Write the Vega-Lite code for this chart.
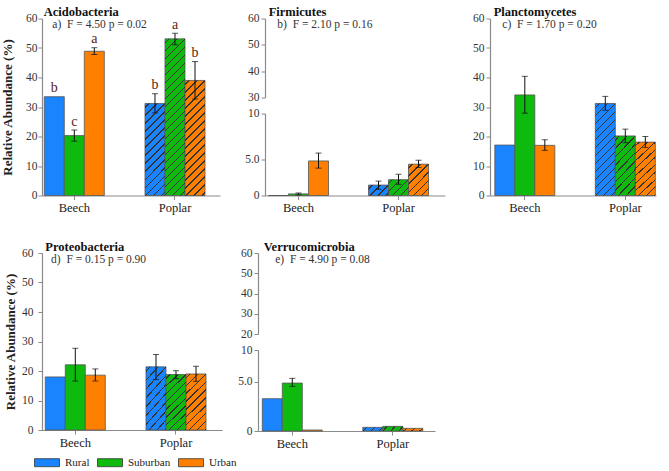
{
"$schema":"https://vega.github.io/schema/vega-lite/v6.json",
"padding":{"left":1,"top":5.5,"right":5,"bottom":2},
"data":{"values":[
{"phylum":"Acidobacteria","group":"Beech","site":"Rural","value":33.5,"lo":33.5,"hi":33.5,"letter":"b"},
{"phylum":"Acidobacteria","group":"Beech","site":"Suburban","value":20.3,"lo":18.4,"hi":22.2,"letter":"c"},
{"phylum":"Acidobacteria","group":"Beech","site":"Urban","value":48.9,"lo":47.8,"hi":50.1,"letter":"a"},
{"phylum":"Acidobacteria","group":"Poplar","site":"Rural","value":31.2,"lo":28.0,"hi":34.5,"letter":"b"},
{"phylum":"Acidobacteria","group":"Poplar","site":"Suburban","value":53.1,"lo":51.1,"hi":55.0,"letter":"a"},
{"phylum":"Acidobacteria","group":"Poplar","site":"Urban","value":39.0,"lo":32.7,"hi":45.4,"letter":"b"},
{"phylum":"Firmicutes","group":"Beech","site":"Rural","value":0,"lo":0,"hi":0},
{"phylum":"Firmicutes","group":"Beech","site":"Suburban","value":0.22,"lo":0.1,"hi":0.35},
{"phylum":"Firmicutes","group":"Beech","site":"Urban","value":4.8,"lo":3.8,"hi":5.7},
{"phylum":"Firmicutes","group":"Poplar","site":"Rural","value":1.45,"lo":0.85,"hi":2.0},
{"phylum":"Firmicutes","group":"Poplar","site":"Suburban","value":2.2,"lo":1.55,"hi":2.95},
{"phylum":"Firmicutes","group":"Poplar","site":"Urban","value":4.35,"lo":3.9,"hi":4.9},
{"phylum":"Planctomycetes","group":"Beech","site":"Rural","value":17.1,"lo":17.1,"hi":17.1},
{"phylum":"Planctomycetes","group":"Beech","site":"Suburban","value":34.1,"lo":27.9,"hi":40.4},
{"phylum":"Planctomycetes","group":"Beech","site":"Urban","value":17.0,"lo":15.3,"hi":18.9},
{"phylum":"Planctomycetes","group":"Poplar","site":"Rural","value":31.2,"lo":28.9,"hi":33.6},
{"phylum":"Planctomycetes","group":"Poplar","site":"Suburban","value":20.2,"lo":17.9,"hi":22.5},
{"phylum":"Planctomycetes","group":"Poplar","site":"Urban","value":18.1,"lo":16.3,"hi":20.0},
{"phylum":"Proteobacteria","group":"Beech","site":"Rural","value":18.0,"lo":18.0,"hi":18.0},
{"phylum":"Proteobacteria","group":"Beech","site":"Suburban","value":22.1,"lo":16.6,"hi":27.7},
{"phylum":"Proteobacteria","group":"Beech","site":"Urban","value":18.6,"lo":16.6,"hi":20.7},
{"phylum":"Proteobacteria","group":"Poplar","site":"Rural","value":21.4,"lo":17.1,"hi":25.6},
{"phylum":"Proteobacteria","group":"Poplar","site":"Suburban","value":18.8,"lo":17.4,"hi":20.1},
{"phylum":"Proteobacteria","group":"Poplar","site":"Urban","value":19.0,"lo":16.5,"hi":21.6},
{"phylum":"Verrucomicrobia","group":"Beech","site":"Rural","value":3.28,"lo":3.28,"hi":3.28},
{"phylum":"Verrucomicrobia","group":"Beech","site":"Suburban","value":4.86,"lo":4.53,"hi":5.53},
{"phylum":"Verrucomicrobia","group":"Beech","site":"Urban","value":0.1,"lo":0.1,"hi":0.1},
{"phylum":"Verrucomicrobia","group":"Poplar","site":"Rural","value":0.37,"lo":0.37,"hi":0.37},
{"phylum":"Verrucomicrobia","group":"Poplar","site":"Suburban","value":0.47,"lo":0.47,"hi":0.47},
{"phylum":"Verrucomicrobia","group":"Poplar","site":"Urban","value":0.27,"lo":0.27,"hi":0.27}
]},
"spacing":25.5,
"resolve":{"scale":{"x":"independent","y":"independent"}},
"vconcat":[
{"hconcat":[
{
"width":178,"height":177,
"title":{"text":"Acidobacteria","subtitle":"\u200b\u00a0\u00a0\u00a0a)\u00a0 F = 4.50 p = 0.02","dx":1.7},
"transform":[{"filter":"datum.phylum === 'Acidobacteria'"}],
"encoding":{
"x":{"field":"group","type":"nominal","sort":["Beech","Poplar"],"title":null,"scale":{"paddingInner":0.404,"paddingOuter":0.0859,"align":0.133}},
"xOffset":{"field":"site","type":"nominal","sort":["Rural","Suburban","Urban"],"scale":{"paddingInner":0,"paddingOuter":0}}
},
"layer":[
{"mark":{"type":"bar","stroke":"#555","strokeWidth":0.8},
"encoding":{"y":{"field":"value","type":"quantitative","title":"Relative Abundance (%)","scale":{"domain":[0,60],"nice":false,"zero":false},"axis":{"values":[0,10,20,30,40,50,60],"labelPadding":1,"titlePadding":11}},
"color":{"field":"site","type":"nominal","title":null,"scale":{"domain":["Rural","Suburban","Urban"],"range":["#1a84ff","#0dba0d","#ff8000"]}}}},
{"transform":[{"filter":"datum.group === 'Poplar'"}],"mark":{"type":"bar"},
"encoding":{"y":{"field":"value","type":"quantitative","title":"Relative Abundance (%)","axis":{"values":[0,10,20,30,40,50,60],"labelPadding":1,"titlePadding":11}},
"fill":{"condition":[
{"test":"datum.site === 'Rural'","value":{"gradient":"linear","x1":0,"y1":0,"x2":0.2536,"y2":1.1628,"stops":[
{"offset":0.0295,"color":"transparent"},{"offset":0.0295,"color":"#333"},{"offset":0.0421,"color":"#333"},{"offset":0.0421,"color":"transparent"},
{"offset":0.1012,"color":"transparent"},{"offset":0.1012,"color":"#333"},{"offset":0.1137,"color":"#333"},{"offset":0.1137,"color":"transparent"},
{"offset":0.1728,"color":"transparent"},{"offset":0.1728,"color":"#333"},{"offset":0.1853,"color":"#333"},{"offset":0.1853,"color":"transparent"},
{"offset":0.2444,"color":"transparent"},{"offset":0.2444,"color":"#333"},{"offset":0.2569,"color":"#333"},{"offset":0.2569,"color":"transparent"},
{"offset":0.3160,"color":"transparent"},{"offset":0.3160,"color":"#333"},{"offset":0.3286,"color":"#333"},{"offset":0.3286,"color":"transparent"},
{"offset":0.3876,"color":"transparent"},{"offset":0.3876,"color":"#333"},{"offset":0.4002,"color":"#333"},{"offset":0.4002,"color":"transparent"},
{"offset":0.4593,"color":"transparent"},{"offset":0.4593,"color":"#333"},{"offset":0.4718,"color":"#333"},{"offset":0.4718,"color":"transparent"},
{"offset":0.5309,"color":"transparent"},{"offset":0.5309,"color":"#333"},{"offset":0.5434,"color":"#333"},{"offset":0.5434,"color":"transparent"},
{"offset":0.6025,"color":"transparent"},{"offset":0.6025,"color":"#333"},{"offset":0.6150,"color":"#333"},{"offset":0.6150,"color":"transparent"},
{"offset":0.6741,"color":"transparent"},{"offset":0.6741,"color":"#333"},{"offset":0.6867,"color":"#333"},{"offset":0.6867,"color":"transparent"},
{"offset":0.7457,"color":"transparent"},{"offset":0.7457,"color":"#333"},{"offset":0.7583,"color":"#333"},{"offset":0.7583,"color":"transparent"},
{"offset":0.8174,"color":"transparent"},{"offset":0.8174,"color":"#333"},{"offset":0.8299,"color":"#333"},{"offset":0.8299,"color":"transparent"},
{"offset":0.8890,"color":"transparent"},{"offset":0.8890,"color":"#333"},{"offset":0.9015,"color":"#333"},{"offset":0.9015,"color":"transparent"},
{"offset":0.9606,"color":"transparent"},{"offset":0.9606,"color":"#333"},{"offset":0.9731,"color":"#333"},{"offset":0.9731,"color":"transparent"}]}},
{"test":"datum.site === 'Suburban'","value":{"gradient":"linear","x1":0,"y1":0,"x2":0.1417,"y2":1.1096,"stops":[
{"offset":0.0187,"color":"transparent"},{"offset":0.0187,"color":"#333"},{"offset":0.0266,"color":"#333"},{"offset":0.0266,"color":"transparent"},
{"offset":0.0640,"color":"transparent"},{"offset":0.0640,"color":"#333"},{"offset":0.0719,"color":"#333"},{"offset":0.0719,"color":"transparent"},
{"offset":0.1093,"color":"transparent"},{"offset":0.1093,"color":"#333"},{"offset":0.1172,"color":"#333"},{"offset":0.1172,"color":"transparent"},
{"offset":0.1546,"color":"transparent"},{"offset":0.1546,"color":"#333"},{"offset":0.1625,"color":"#333"},{"offset":0.1625,"color":"transparent"},
{"offset":0.1999,"color":"transparent"},{"offset":0.1999,"color":"#333"},{"offset":0.2078,"color":"#333"},{"offset":0.2078,"color":"transparent"},
{"offset":0.2452,"color":"transparent"},{"offset":0.2452,"color":"#333"},{"offset":0.2531,"color":"#333"},{"offset":0.2531,"color":"transparent"},
{"offset":0.2905,"color":"transparent"},{"offset":0.2905,"color":"#333"},{"offset":0.2984,"color":"#333"},{"offset":0.2984,"color":"transparent"},
{"offset":0.3358,"color":"transparent"},{"offset":0.3358,"color":"#333"},{"offset":0.3437,"color":"#333"},{"offset":0.3437,"color":"transparent"},
{"offset":0.3811,"color":"transparent"},{"offset":0.3811,"color":"#333"},{"offset":0.3890,"color":"#333"},{"offset":0.3890,"color":"transparent"},
{"offset":0.4264,"color":"transparent"},{"offset":0.4264,"color":"#333"},{"offset":0.4343,"color":"#333"},{"offset":0.4343,"color":"transparent"},
{"offset":0.4717,"color":"transparent"},{"offset":0.4717,"color":"#333"},{"offset":0.4796,"color":"#333"},{"offset":0.4796,"color":"transparent"},
{"offset":0.5170,"color":"transparent"},{"offset":0.5170,"color":"#333"},{"offset":0.5249,"color":"#333"},{"offset":0.5249,"color":"transparent"},
{"offset":0.5623,"color":"transparent"},{"offset":0.5623,"color":"#333"},{"offset":0.5702,"color":"#333"},{"offset":0.5702,"color":"transparent"},
{"offset":0.6076,"color":"transparent"},{"offset":0.6076,"color":"#333"},{"offset":0.6155,"color":"#333"},{"offset":0.6155,"color":"transparent"},
{"offset":0.6529,"color":"transparent"},{"offset":0.6529,"color":"#333"},{"offset":0.6608,"color":"#333"},{"offset":0.6608,"color":"transparent"},
{"offset":0.6982,"color":"transparent"},{"offset":0.6982,"color":"#333"},{"offset":0.7061,"color":"#333"},{"offset":0.7061,"color":"transparent"},
{"offset":0.7435,"color":"transparent"},{"offset":0.7435,"color":"#333"},{"offset":0.7514,"color":"#333"},{"offset":0.7514,"color":"transparent"},
{"offset":0.7888,"color":"transparent"},{"offset":0.7888,"color":"#333"},{"offset":0.7967,"color":"#333"},{"offset":0.7967,"color":"transparent"},
{"offset":0.8341,"color":"transparent"},{"offset":0.8341,"color":"#333"},{"offset":0.8420,"color":"#333"},{"offset":0.8420,"color":"transparent"},
{"offset":0.8794,"color":"transparent"},{"offset":0.8794,"color":"#333"},{"offset":0.8873,"color":"#333"},{"offset":0.8873,"color":"transparent"},
{"offset":0.9247,"color":"transparent"},{"offset":0.9247,"color":"#333"},{"offset":0.9326,"color":"#333"},{"offset":0.9326,"color":"transparent"},
{"offset":0.9700,"color":"transparent"},{"offset":0.9700,"color":"#333"},{"offset":0.9779,"color":"#333"},{"offset":0.9779,"color":"transparent"}]}}],
"value":{"gradient":"linear","x1":0,"y1":0,"x2":0.1982,"y2":1.1394,"stops":[
{"offset":0.0244,"color":"transparent"},{"offset":0.0244,"color":"#333"},{"offset":0.0348,"color":"#333"},{"offset":0.0348,"color":"transparent"},
{"offset":0.0837,"color":"transparent"},{"offset":0.0837,"color":"#333"},{"offset":0.0941,"color":"#333"},{"offset":0.0941,"color":"transparent"},
{"offset":0.1430,"color":"transparent"},{"offset":0.1430,"color":"#333"},{"offset":0.1533,"color":"#333"},{"offset":0.1533,"color":"transparent"},
{"offset":0.2022,"color":"transparent"},{"offset":0.2022,"color":"#333"},{"offset":0.2126,"color":"#333"},{"offset":0.2126,"color":"transparent"},
{"offset":0.2615,"color":"transparent"},{"offset":0.2615,"color":"#333"},{"offset":0.2719,"color":"#333"},{"offset":0.2719,"color":"transparent"},
{"offset":0.3207,"color":"transparent"},{"offset":0.3207,"color":"#333"},{"offset":0.3311,"color":"#333"},{"offset":0.3311,"color":"transparent"},
{"offset":0.3800,"color":"transparent"},{"offset":0.3800,"color":"#333"},{"offset":0.3904,"color":"#333"},{"offset":0.3904,"color":"transparent"},
{"offset":0.4393,"color":"transparent"},{"offset":0.4393,"color":"#333"},{"offset":0.4496,"color":"#333"},{"offset":0.4496,"color":"transparent"},
{"offset":0.4985,"color":"transparent"},{"offset":0.4985,"color":"#333"},{"offset":0.5089,"color":"#333"},{"offset":0.5089,"color":"transparent"},
{"offset":0.5578,"color":"transparent"},{"offset":0.5578,"color":"#333"},{"offset":0.5681,"color":"#333"},{"offset":0.5681,"color":"transparent"},
{"offset":0.6170,"color":"transparent"},{"offset":0.6170,"color":"#333"},{"offset":0.6274,"color":"#333"},{"offset":0.6274,"color":"transparent"},
{"offset":0.6763,"color":"transparent"},{"offset":0.6763,"color":"#333"},{"offset":0.6867,"color":"#333"},{"offset":0.6867,"color":"transparent"},
{"offset":0.7356,"color":"transparent"},{"offset":0.7356,"color":"#333"},{"offset":0.7459,"color":"#333"},{"offset":0.7459,"color":"transparent"},
{"offset":0.7948,"color":"transparent"},{"offset":0.7948,"color":"#333"},{"offset":0.8052,"color":"#333"},{"offset":0.8052,"color":"transparent"},
{"offset":0.8541,"color":"transparent"},{"offset":0.8541,"color":"#333"},{"offset":0.8644,"color":"#333"},{"offset":0.8644,"color":"transparent"},
{"offset":0.9133,"color":"transparent"},{"offset":0.9133,"color":"#333"},{"offset":0.9237,"color":"#333"},{"offset":0.9237,"color":"transparent"},
{"offset":0.9726,"color":"transparent"},{"offset":0.9726,"color":"#333"},{"offset":0.9830,"color":"#333"},{"offset":0.9830,"color":"transparent"}]}}}},
{"transform":[{"filter":"datum.hi > datum.lo"}],"mark":{"type":"rule","color":"#111","strokeWidth":1},"encoding":{"y":{"field":"lo","type":"quantitative","title":"Relative Abundance (%)","axis":{"values":[0,10,20,30,40,50,60],"labelPadding":1,"titlePadding":11}},"y2":{"field":"hi"}}},
{"transform":[{"filter":"datum.hi > datum.lo"}],"mark":{"type":"tick","color":"#111","thickness":1,"size":6},"encoding":{"y":{"field":"lo","type":"quantitative","title":"Relative Abundance (%)","axis":{"values":[0,10,20,30,40,50,60],"labelPadding":1,"titlePadding":11}}}},
{"transform":[{"filter":"datum.hi > datum.lo"}],"mark":{"type":"tick","color":"#111","thickness":1,"size":6},"encoding":{"y":{"field":"hi","type":"quantitative","title":"Relative Abundance (%)","axis":{"values":[0,10,20,30,40,50,60],"labelPadding":1,"titlePadding":11}}}},
{"transform":[{"filter":"datum.letter != null"}],"mark":{"type":"text","dy":-4.5,"baseline":"alphabetic","fontSize":14,"color":"#5a2414"},"encoding":{"y":{"field":"hi","type":"quantitative","title":"Relative Abundance (%)","axis":{"values":[0,10,20,30,40,50,60],"labelPadding":1,"titlePadding":11}},"text":{"field":"letter"}}}
]
},
{
"width":180,"height":177,
"title":{"text":"Firmicutes","subtitle":"\u200b\u00a0\u00a0\u00a0b)\u00a0 F = 2.10 p = 0.16","dx":3.7},
"transform":[{"filter":"datum.phylum === 'Firmicutes'"}],
"encoding":{
"x":{"field":"group","type":"nominal","sort":["Beech","Poplar"],"title":null,"scale":{"paddingInner":0.4,"paddingOuter":0.1,"align":0.175}},
"xOffset":{"field":"site","type":"nominal","sort":["Rural","Suburban","Urban"],"scale":{"paddingInner":0,"paddingOuter":0}}
},
"resolve":{"scale":{"y":"independent"},"axis":{"y":"independent"}},
"layer":[
{"mark":{"type":"point","opacity":0},"encoding":{"y":{"field":"value","type":"quantitative","title":null,"scale":{"domain":[30,60],"range":[79,0],"nice":false,"zero":false},"axis":{"values":[30,40,50,60],"orient":"left"}}}},
{"layer":[
{"mark":{"type":"bar","stroke":"#555","strokeWidth":0.8},
"encoding":{"y":{"field":"value","type":"quantitative","title":null,"scale":{"domain":[0,5,10],"range":[177,141,95],"nice":false,"zero":false},"axis":{"values":[0,5,10],"orient":"left","labelExpr":"datum.value === 5 ? '5.0' : datum.label"}},
"color":{"field":"site","type":"nominal","title":null}}},
{"transform":[{"filter":"datum.group === 'Poplar'"}],"mark":{"type":"bar"},
"encoding":{"y":{"field":"value","type":"quantitative","title":null,"axis":{"values":[0,5,10],"orient":"left","labelExpr":"datum.value === 5 ? '5.0' : datum.label"}},
"fill":{"condition":[
{"test":"datum.site === 'Rural'","value":{"gradient":"linear","x1":0,"y1":0,"x2":1.1964,"y2":0.6221,"stops":[
{"offset":0.1086,"color":"transparent"},{"offset":0.1086,"color":"#333"},{"offset":0.1546,"color":"#333"},{"offset":0.1546,"color":"transparent"},
{"offset":0.3717,"color":"transparent"},{"offset":0.3717,"color":"#333"},{"offset":0.4178,"color":"#333"},{"offset":0.4178,"color":"transparent"},
{"offset":0.6349,"color":"transparent"},{"offset":0.6349,"color":"#333"},{"offset":0.6809,"color":"#333"},{"offset":0.6809,"color":"transparent"},
{"offset":0.8980,"color":"transparent"},{"offset":0.8980,"color":"#333"},{"offset":0.9441,"color":"#333"},{"offset":0.9441,"color":"transparent"}]}},
{"test":"datum.site === 'Suburban'","value":{"gradient":"linear","x1":0,"y1":0,"x2":1.1022,"y2":0.8707,"stops":[
{"offset":0.0922,"color":"transparent"},{"offset":0.0922,"color":"#333"},{"offset":0.1313,"color":"#333"},{"offset":0.1313,"color":"transparent"},
{"offset":0.3156,"color":"transparent"},{"offset":0.3156,"color":"#333"},{"offset":0.3547,"color":"#333"},{"offset":0.3547,"color":"transparent"},
{"offset":0.5391,"color":"transparent"},{"offset":0.5391,"color":"#333"},{"offset":0.5782,"color":"#333"},{"offset":0.5782,"color":"transparent"},
{"offset":0.7626,"color":"transparent"},{"offset":0.7626,"color":"#333"},{"offset":0.8017,"color":"#333"},{"offset":0.8017,"color":"transparent"}]}}],
"value":{"gradient":"linear","x1":0,"y1":0,"x2":0.7436,"y2":1.1638,"stops":[
{"offset":0.0643,"color":"transparent"},{"offset":0.0643,"color":"#333"},{"offset":0.0916,"color":"#333"},{"offset":0.0916,"color":"transparent"},
{"offset":0.2203,"color":"transparent"},{"offset":0.2203,"color":"#333"},{"offset":0.2476,"color":"#333"},{"offset":0.2476,"color":"transparent"},
{"offset":0.3762,"color":"transparent"},{"offset":0.3762,"color":"#333"},{"offset":0.4035,"color":"#333"},{"offset":0.4035,"color":"transparent"},
{"offset":0.5322,"color":"transparent"},{"offset":0.5322,"color":"#333"},{"offset":0.5595,"color":"#333"},{"offset":0.5595,"color":"transparent"},
{"offset":0.6881,"color":"transparent"},{"offset":0.6881,"color":"#333"},{"offset":0.7154,"color":"#333"},{"offset":0.7154,"color":"transparent"},
{"offset":0.8441,"color":"transparent"},{"offset":0.8441,"color":"#333"},{"offset":0.8713,"color":"#333"},{"offset":0.8713,"color":"transparent"}]}}}},
{"transform":[{"filter":"datum.hi > datum.lo"}],"mark":{"type":"rule","color":"#111","strokeWidth":1},"encoding":{"y":{"field":"lo","type":"quantitative","title":null,"axis":{"values":[0,5,10],"orient":"left","labelExpr":"datum.value === 5 ? '5.0' : datum.label"}},"y2":{"field":"hi"}}},
{"transform":[{"filter":"datum.hi > datum.lo"}],"mark":{"type":"tick","color":"#111","thickness":1,"size":6},"encoding":{"y":{"field":"lo","type":"quantitative","title":null,"axis":{"values":[0,5,10],"orient":"left","labelExpr":"datum.value === 5 ? '5.0' : datum.label"}}}},
{"transform":[{"filter":"datum.hi > datum.lo"}],"mark":{"type":"tick","color":"#111","thickness":1,"size":6},"encoding":{"y":{"field":"hi","type":"quantitative","title":null,"axis":{"values":[0,5,10],"orient":"left","labelExpr":"datum.value === 5 ? '5.0' : datum.label"}}}}
]}
]
},
{
"width":166,"height":177,
"title":{"text":"Planctomycetes","subtitle":"\u200b\u00a0\u00a0\u00a0c)\u00a0 F = 1.70 p = 0.20","dx":3.7},
"transform":[{"filter":"datum.phylum === 'Planctomycetes'"}],
"encoding":{
"x":{"field":"group","type":"nominal","sort":["Beech","Poplar"],"title":null,"scale":{"paddingInner":0.403,"paddingOuter":0.0274,"align":0.873}},
"xOffset":{"field":"site","type":"nominal","sort":["Rural","Suburban","Urban"],"scale":{"paddingInner":0,"paddingOuter":0}}
},
"layer":[
{"mark":{"type":"bar","stroke":"#555","strokeWidth":0.8},
"encoding":{"y":{"field":"value","type":"quantitative","title":null,"scale":{"domain":[0,60],"nice":false,"zero":false},"axis":{"values":[0,10,20,30,40,50,60]}},
"color":{"field":"site","type":"nominal","title":null}}},
{"transform":[{"filter":"datum.group === 'Poplar'"}],"mark":{"type":"bar"},
"encoding":{"y":{"field":"value","type":"quantitative","title":null,"axis":{"values":[0,10,20,30,40,50,60]}},
"fill":{"condition":[
{"test":"datum.site === 'Rural'","value":{"gradient":"linear","x1":0,"y1":0,"x2":0.2536,"y2":1.1628,"stops":[
{"offset":0.0295,"color":"transparent"},{"offset":0.0295,"color":"#333"},{"offset":0.0421,"color":"#333"},{"offset":0.0421,"color":"transparent"},
{"offset":0.1012,"color":"transparent"},{"offset":0.1012,"color":"#333"},{"offset":0.1137,"color":"#333"},{"offset":0.1137,"color":"transparent"},
{"offset":0.1728,"color":"transparent"},{"offset":0.1728,"color":"#333"},{"offset":0.1853,"color":"#333"},{"offset":0.1853,"color":"transparent"},
{"offset":0.2444,"color":"transparent"},{"offset":0.2444,"color":"#333"},{"offset":0.2569,"color":"#333"},{"offset":0.2569,"color":"transparent"},
{"offset":0.3160,"color":"transparent"},{"offset":0.3160,"color":"#333"},{"offset":0.3286,"color":"#333"},{"offset":0.3286,"color":"transparent"},
{"offset":0.3876,"color":"transparent"},{"offset":0.3876,"color":"#333"},{"offset":0.4002,"color":"#333"},{"offset":0.4002,"color":"transparent"},
{"offset":0.4593,"color":"transparent"},{"offset":0.4593,"color":"#333"},{"offset":0.4718,"color":"#333"},{"offset":0.4718,"color":"transparent"},
{"offset":0.5309,"color":"transparent"},{"offset":0.5309,"color":"#333"},{"offset":0.5434,"color":"#333"},{"offset":0.5434,"color":"transparent"},
{"offset":0.6025,"color":"transparent"},{"offset":0.6025,"color":"#333"},{"offset":0.6150,"color":"#333"},{"offset":0.6150,"color":"transparent"},
{"offset":0.6741,"color":"transparent"},{"offset":0.6741,"color":"#333"},{"offset":0.6867,"color":"#333"},{"offset":0.6867,"color":"transparent"},
{"offset":0.7457,"color":"transparent"},{"offset":0.7457,"color":"#333"},{"offset":0.7583,"color":"#333"},{"offset":0.7583,"color":"transparent"},
{"offset":0.8174,"color":"transparent"},{"offset":0.8174,"color":"#333"},{"offset":0.8299,"color":"#333"},{"offset":0.8299,"color":"transparent"},
{"offset":0.8890,"color":"transparent"},{"offset":0.8890,"color":"#333"},{"offset":0.9015,"color":"#333"},{"offset":0.9015,"color":"transparent"},
{"offset":0.9606,"color":"transparent"},{"offset":0.9606,"color":"#333"},{"offset":0.9731,"color":"#333"},{"offset":0.9731,"color":"transparent"}]}}],
"value":{"gradient":"linear","x1":0,"y1":0,"x2":0.4220,"y2":1.2028,"stops":[
{"offset":0.0429,"color":"transparent"},{"offset":0.0429,"color":"#333"},{"offset":0.0610,"color":"#333"},{"offset":0.0610,"color":"transparent"},
{"offset":0.1468,"color":"transparent"},{"offset":0.1468,"color":"#333"},{"offset":0.1649,"color":"#333"},{"offset":0.1649,"color":"transparent"},
{"offset":0.2506,"color":"transparent"},{"offset":0.2506,"color":"#333"},{"offset":0.2688,"color":"#333"},{"offset":0.2688,"color":"transparent"},
{"offset":0.3545,"color":"transparent"},{"offset":0.3545,"color":"#333"},{"offset":0.3727,"color":"#333"},{"offset":0.3727,"color":"transparent"},
{"offset":0.4584,"color":"transparent"},{"offset":0.4584,"color":"#333"},{"offset":0.4766,"color":"#333"},{"offset":0.4766,"color":"transparent"},
{"offset":0.5623,"color":"transparent"},{"offset":0.5623,"color":"#333"},{"offset":0.5805,"color":"#333"},{"offset":0.5805,"color":"transparent"},
{"offset":0.6662,"color":"transparent"},{"offset":0.6662,"color":"#333"},{"offset":0.6844,"color":"#333"},{"offset":0.6844,"color":"transparent"},
{"offset":0.7701,"color":"transparent"},{"offset":0.7701,"color":"#333"},{"offset":0.7883,"color":"#333"},{"offset":0.7883,"color":"transparent"},
{"offset":0.8740,"color":"transparent"},{"offset":0.8740,"color":"#333"},{"offset":0.8922,"color":"#333"},{"offset":0.8922,"color":"transparent"},
{"offset":0.9779,"color":"transparent"},{"offset":0.9779,"color":"#333"},{"offset":0.9961,"color":"#333"},{"offset":0.9961,"color":"transparent"}]}}}},
{"transform":[{"filter":"datum.hi > datum.lo"}],"mark":{"type":"rule","color":"#111","strokeWidth":1},"encoding":{"y":{"field":"lo","type":"quantitative","title":null,"axis":{"values":[0,10,20,30,40,50,60]}},"y2":{"field":"hi"}}},
{"transform":[{"filter":"datum.hi > datum.lo"}],"mark":{"type":"tick","color":"#111","thickness":1,"size":6},"encoding":{"y":{"field":"lo","type":"quantitative","title":null,"axis":{"values":[0,10,20,30,40,50,60]}}}},
{"transform":[{"filter":"datum.hi > datum.lo"}],"mark":{"type":"tick","color":"#111","thickness":1,"size":6},"encoding":{"y":{"field":"hi","type":"quantitative","title":null,"axis":{"values":[0,10,20,30,40,50,60]}}}}
]
}
],"spacing":45,"bounds":"flush","resolve":{"scale":{"x":"independent","y":"independent"}}},
{"hconcat":[
{
"width":180,"height":177,
"title":{"text":"Proteobacteria","subtitle":"\u200b\u00a0\u00a0d)\u00a0 F = 0.15 p = 0.90","dx":3.3},
"transform":[{"filter":"datum.phylum === 'Proteobacteria'"}],
"encoding":{
"x":{"field":"group","type":"nominal","sort":["Beech","Poplar"],"title":null,"scale":{"paddingInner":0.404,"paddingOuter":0.0958,"align":0.171}},
"xOffset":{"field":"site","type":"nominal","sort":["Rural","Suburban","Urban"],"scale":{"paddingInner":0,"paddingOuter":0}}
},
"layer":[
{"mark":{"type":"bar","stroke":"#555","strokeWidth":0.8},
"encoding":{"y":{"field":"value","type":"quantitative","title":"Relative Abundance (%)","scale":{"domain":[0,60],"nice":false,"zero":false},"axis":{"values":[0,10,20,30,40,50,60],"labelPadding":5,"titlePadding":4}},
"color":{"field":"site","type":"nominal","title":null}}},
{"transform":[{"filter":"datum.group === 'Poplar'"}],"mark":{"type":"bar"},
"encoding":{"y":{"field":"value","type":"quantitative","title":"Relative Abundance (%)","axis":{"values":[0,10,20,30,40,50,60],"labelPadding":5,"titlePadding":4}},
"fill":{"value":{"gradient":"linear","x1":0,"y1":0,"x2":0.4220,"y2":1.2028,"stops":[
{"offset":0.0429,"color":"transparent"},{"offset":0.0429,"color":"#333"},{"offset":0.0610,"color":"#333"},{"offset":0.0610,"color":"transparent"},
{"offset":0.1468,"color":"transparent"},{"offset":0.1468,"color":"#333"},{"offset":0.1649,"color":"#333"},{"offset":0.1649,"color":"transparent"},
{"offset":0.2506,"color":"transparent"},{"offset":0.2506,"color":"#333"},{"offset":0.2688,"color":"#333"},{"offset":0.2688,"color":"transparent"},
{"offset":0.3545,"color":"transparent"},{"offset":0.3545,"color":"#333"},{"offset":0.3727,"color":"#333"},{"offset":0.3727,"color":"transparent"},
{"offset":0.4584,"color":"transparent"},{"offset":0.4584,"color":"#333"},{"offset":0.4766,"color":"#333"},{"offset":0.4766,"color":"transparent"},
{"offset":0.5623,"color":"transparent"},{"offset":0.5623,"color":"#333"},{"offset":0.5805,"color":"#333"},{"offset":0.5805,"color":"transparent"},
{"offset":0.6662,"color":"transparent"},{"offset":0.6662,"color":"#333"},{"offset":0.6844,"color":"#333"},{"offset":0.6844,"color":"transparent"},
{"offset":0.7701,"color":"transparent"},{"offset":0.7701,"color":"#333"},{"offset":0.7883,"color":"#333"},{"offset":0.7883,"color":"transparent"},
{"offset":0.8740,"color":"transparent"},{"offset":0.8740,"color":"#333"},{"offset":0.8922,"color":"#333"},{"offset":0.8922,"color":"transparent"},
{"offset":0.9779,"color":"transparent"},{"offset":0.9779,"color":"#333"},{"offset":0.9961,"color":"#333"},{"offset":0.9961,"color":"transparent"}]}}}},
{"transform":[{"filter":"datum.hi > datum.lo"}],"mark":{"type":"rule","color":"#111","strokeWidth":1},"encoding":{"y":{"field":"lo","type":"quantitative","title":"Relative Abundance (%)","axis":{"values":[0,10,20,30,40,50,60],"labelPadding":5,"titlePadding":4}},"y2":{"field":"hi"}}},
{"transform":[{"filter":"datum.hi > datum.lo"}],"mark":{"type":"tick","color":"#111","thickness":1,"size":6},"encoding":{"y":{"field":"lo","type":"quantitative","title":"Relative Abundance (%)","axis":{"values":[0,10,20,30,40,50,60],"labelPadding":5,"titlePadding":4}}}},
{"transform":[{"filter":"datum.hi > datum.lo"}],"mark":{"type":"tick","color":"#111","thickness":1,"size":6},"encoding":{"y":{"field":"hi","type":"quantitative","title":"Relative Abundance (%)","axis":{"values":[0,10,20,30,40,50,60],"labelPadding":5,"titlePadding":4}}}}
]
},
{
"width":177,"height":178,
"title":{"text":"Verrucomicrobia","subtitle":"\u200b\u00a0\u00a0\u00a0\u00a0e)\u00a0 F = 4.90 p = 0.08","dx":5.7},
"transform":[{"filter":"datum.phylum === 'Verrucomicrobia'"}],
"encoding":{
"x":{"field":"group","type":"nominal","sort":["Beech","Poplar"],"title":null,"scale":{"paddingInner":0.403,"paddingOuter":0.082,"align":0.26}},
"xOffset":{"field":"site","type":"nominal","sort":["Rural","Suburban","Urban"],"scale":{"paddingInner":0,"paddingOuter":0}}
},
"resolve":{"scale":{"y":"independent"},"axis":{"y":"independent"}},
"layer":[
{"mark":{"type":"point","opacity":0},"encoding":{"y":{"field":"value","type":"quantitative","title":null,"scale":{"domain":[20,60],"range":[81,0],"nice":false,"zero":false},"axis":{"values":[20,30,40,50,60],"orient":"left"}}}},
{"layer":[
{"mark":{"type":"bar","stroke":"#555","strokeWidth":0.8},
"encoding":{"y":{"field":"value","type":"quantitative","title":null,"scale":{"domain":[0,5,10],"range":[178,128.7,97],"nice":false,"zero":false},"axis":{"values":[0,5,10],"orient":"left","labelExpr":"datum.value === 5 ? '5.0' : datum.label"}},
"color":{"field":"site","type":"nominal","title":null}}},
{"transform":[{"filter":"datum.group === 'Poplar'"}],"mark":{"type":"bar"},
"encoding":{"y":{"field":"value","type":"quantitative","title":null,"axis":{"values":[0,5,10],"orient":"left","labelExpr":"datum.value === 5 ? '5.0' : datum.label"}},
"fill":{"value":{"gradient":"linear","x1":0,"y1":0,"x2":1.1429,"y2":0.2057,"stops":[
{"offset":0.1398,"color":"transparent"},{"offset":0.1398,"color":"#333"},{"offset":0.1992,"color":"#333"},{"offset":0.1992,"color":"transparent"},
{"offset":0.4788,"color":"transparent"},{"offset":0.4788,"color":"#333"},{"offset":0.5381,"color":"#333"},{"offset":0.5381,"color":"transparent"},
{"offset":0.8178,"color":"transparent"},{"offset":0.8178,"color":"#333"},{"offset":0.8771,"color":"#333"},{"offset":0.8771,"color":"transparent"}]}}}},
{"transform":[{"filter":"datum.hi > datum.lo"}],"mark":{"type":"rule","color":"#111","strokeWidth":1},"encoding":{"y":{"field":"lo","type":"quantitative","title":null,"axis":{"values":[0,5,10],"orient":"left","labelExpr":"datum.value === 5 ? '5.0' : datum.label"}},"y2":{"field":"hi"}}},
{"transform":[{"filter":"datum.hi > datum.lo"}],"mark":{"type":"tick","color":"#111","thickness":1,"size":6},"encoding":{"y":{"field":"lo","type":"quantitative","title":null,"axis":{"values":[0,5,10],"orient":"left","labelExpr":"datum.value === 5 ? '5.0' : datum.label"}}}},
{"transform":[{"filter":"datum.hi > datum.lo"}],"mark":{"type":"tick","color":"#111","thickness":1,"size":6},"encoding":{"y":{"field":"hi","type":"quantitative","title":null,"axis":{"values":[0,5,10],"orient":"left","labelExpr":"datum.value === 5 ? '5.0' : datum.label"}}}}
]}
]
}
],"spacing":36,"bounds":"flush","resolve":{"scale":{"x":"independent","y":"independent"}}}
],
"config":{
"view":{"stroke":null},
"font":"'Liberation Serif', 'Times New Roman', serif",
"text":{"font":"'Liberation Serif', 'Times New Roman', serif"},
"axis":{"domainColor":"#8a8a8a","tickColor":"#8a8a8a","labelColor":"#333","labelFont":"'Liberation Serif', 'Times New Roman', serif","labelFontSize":11.5,"titleFont":"'Liberation Serif', 'Times New Roman', serif","grid":false,"tickSize":4,"domainWidth":1.2,"tickWidth":1},
"axisY":{"labelPadding":2,"titleFontSize":13,"titleFontWeight":"bold","titleColor":"#222","titlePadding":4,"labelOverlap":false},
"axisX":{"labelFontSize":12.5,"labelPadding":2,"labelAngle":0,"labelColor":"#222"},
"title":{"anchor":"start","frame":"group","offset":-18,"font":"'Liberation Serif', 'Times New Roman', serif","fontSize":12.5,"fontWeight":"bold","color":"#111","subtitleFont":"'Liberation Serif', 'Times New Roman', serif","subtitleFontSize":11.5,"subtitleColor":"#333","subtitlePadding":0.5},
"legend":{"orient":"none","legendX":-8,"legendY":431,"direction":"horizontal","symbolType":"M-1,-0.32H1V0.32H-1Z","symbolSize":625,"symbolStrokeColor":"#333","symbolStrokeWidth":0.8,"symbolOpacity":1,"labelFont":"'Liberation Serif', 'Times New Roman', serif","labelFontSize":11,"labelColor":"#222","labelOffset":5,"columnPadding":5,"padding":0}
}
}
